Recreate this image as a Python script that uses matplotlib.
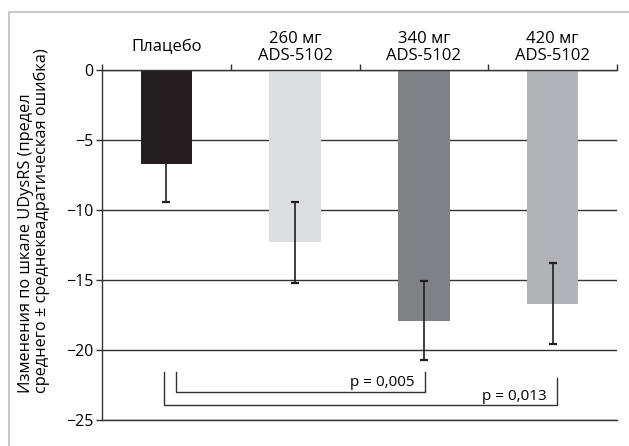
import matplotlib
matplotlib.use("Agg")
import matplotlib.pyplot as plt
from matplotlib.patches import Rectangle

plt.rcParams['font.family'] = ['Open Sans', 'DejaVu Sans']

categories = ["Плацебо", "260 мг\nADS-5102", "340 мг\nADS-5102", "420 мг\nADS-5102"]
means = [-6.7, -12.3, -17.9, -16.7]
errors = [2.7, 2.9, 2.8, 2.9]
colors = ["#231f20", "#dcdddf", "#808184", "#b2b3b6"]
yticks = [0, -5, -10, -15, -20, -25]
ytick_labels = ["0", "\u22125", "\u221210", "\u221215", "\u221220", "\u221225"]
ylabel = "Изменения по шкале UDysRS (предел\nсреднего ± среднеквадратическая ошибка)"

# brackets: (x_left, x_right, y_top_left, y_top_right, y_bottom, label)
brackets = [
    (0.075, 2.01, -21.6, -21.6, -23.0, "p = 0,005"),
    (-0.02, 3.035, -21.6, -22.0, -23.95, "p = 0,013"),
]

fig = plt.figure(figsize=(6.29, 4.46), dpi=100)
ax = fig.add_axes([102/629, 1 - 420/446, 515/629, 350/446])

x = list(range(len(categories)))
ax.set_axisbelow(True)
ax.yaxis.grid(True, color="#333333", linewidth=1.0)
ax.bar(x, means, width=0.40, color=colors, zorder=2)
ax.errorbar(x, means, yerr=errors, fmt="none", ecolor="#231f20",
            elinewidth=1.2, capsize=2.6, capthick=1.6, zorder=3)

ax.set_xlim(-0.5, 3.5)
ax.set_ylim(-25, 0)
ax.set_yticks(yticks)
ax.set_yticklabels(ytick_labels, fontsize=11.5)
ax.tick_params(axis="y", direction="out", length=4, width=1, color="#333333", pad=2)

# category boundaries as ticks on the top axis
ax.xaxis.tick_top()
ax.set_xticks([-0.5, 0.5, 1.5, 2.5, 3.5])
ax.set_xticklabels([])
ax.tick_params(axis="x", direction="out", length=4, width=1, color="#333333")

for s in ["left", "top", "bottom"]:
    ax.spines[s].set_color("#333333")
    ax.spines[s].set_linewidth(1.0)
ax.spines["right"].set_visible(False)

for i, lab in enumerate(categories):
    ax.text(i, 1.6, lab, ha="center", va="center", fontsize=12,
            linespacing=1.1, clip_on=False)

ax.set_ylabel(ylabel, fontsize=11.8, linespacing=1.0,
              multialignment="left")
ax.yaxis.set_label_coords(-0.100, 0.571)

for xl, xr, ytl, ytr, yb, lab in brackets:
    ax.plot([xl, xl, xr, xr], [ytl, yb, yb, ytr], color="#333333", lw=1.0,
            solid_joinstyle="miter", zorder=3)
    ax.text(xr - 0.08, yb + 0.12, lab, ha="right", va="bottom", fontsize=11)

# light frame around the figure
fig.patches.append(Rectangle((9/629, -0.05), 1.1, 1 - 12/446 + 0.05,
                             transform=fig.transFigure, fill=False,
                             edgecolor="#c8c8c8", linewidth=1.5))

fig.savefig("out.png", dpi=100)
